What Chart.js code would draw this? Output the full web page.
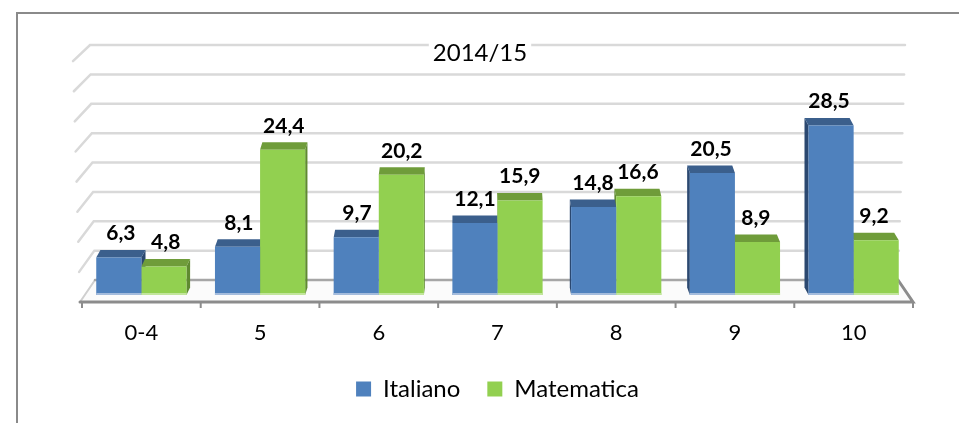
<!DOCTYPE html>
<html>
<head>
<meta charset="utf-8">
<script src="https://cdn.jsdelivr.net/npm/chart.js@4.4.1/dist/chart.umd.min.js"></script>
<style>
  html, body { margin: 0; padding: 0; background: #fff; }
  #wrap { position: relative; width: 959px; height: 423px; }
</style>
</head>
<body>
<div id="wrap"><canvas id="myChart" width="959" height="423"></canvas></div>
<script>
const categories = ['0-4', '5', '6', '7', '8', '9', '10'];
const italiano = [6.3, 8.1, 9.7, 12.1, 14.8, 20.5, 28.5];
const matematica = [4.8, 24.4, 20.2, 15.9, 16.6, 8.9, 9.2];
const yTicks = [0, 5, 10, 15, 20, 25, 30, 35, 40];
const chartTitle = '2014/15';

const FONT = 'Lato';
// front / top / side shades for each series
const shades = [
  { front: '#4f81bd', top: '#3b5f8c', side: '#2b4870', low: '#a3bbdc' },
  { front: '#92d050', top: '#6f9c3a', side: '#5f8a30', low: '#c2e59c' }
];
const vanishX = 480;

const fmt = v => v.toFixed(1).replace('.', ',');

const fake3d = {
  id: 'fake3d',
  beforeDraw(chart) {
    const ctx = chart.ctx;
    ctx.save();
    ctx.strokeStyle = '#8a8a8a';
    ctx.lineWidth = 2;
    ctx.beginPath();
    ctx.moveTo(17, 423);
    ctx.lineTo(17, 13);
    ctx.lineTo(959, 13);
    ctx.stroke();
    ctx.restore();
  },
  beforeDatasetsDraw(chart) {
    const ctx = chart.ctx;
    const ys = chart.scales.y, xs = chart.scales.x;
    const y0 = ys.getPixelForValue(0);
    const L = xs.left, R = xs.right;
    const frac = v => (y0 - ys.getPixelForValue(v)) / (y0 - ys.top);
    const backY = v => y0 - 15 + (ys.getPixelForValue(v) - y0) * 0.987;
    const stubY = v => y0 + 7 + (ys.getPixelForValue(v) - y0) * 1.012;
    ctx.save();
    ctx.lineCap = 'round';
    // back wall grid + left wall stubs
    ctx.strokeStyle = '#d9d9d9';
    ctx.lineWidth = 2.5;
    yTicks.forEach(v => {
      if (v === 0) return;
      const f = frac(v);
      const bx = L + 13 - 5 * f, fx = L - 2 - 7 * f;
      ctx.beginPath();
      ctx.moveTo(fx, stubY(v));
      ctx.lineTo(bx, backY(v));
      ctx.lineTo(R - 15 + 7 * f, backY(v));
      ctx.stroke();
    });
    // floor
    const fy = y0 + 7, by = backY(0);
    ctx.fillStyle = '#fbfbfb';
    ctx.beginPath();
    ctx.moveTo(L - 2, fy); ctx.lineTo(R, fy); ctx.lineTo(R - 15, by); ctx.lineTo(L + 13, by);
    ctx.closePath(); ctx.fill();
    ctx.strokeStyle = '#cfcfcf'; ctx.lineWidth = 2;
    ctx.beginPath(); ctx.moveTo(L - 2, fy); ctx.lineTo(L + 13, by); ctx.stroke();
    ctx.strokeStyle = '#a6a6a6'; ctx.lineWidth = 2.5;
    ctx.beginPath(); ctx.moveTo(L + 13, by); ctx.lineTo(R - 15, by); ctx.stroke();
    ctx.strokeStyle = '#8c8c8c'; ctx.lineWidth = 3;
    ctx.beginPath(); ctx.moveTo(R - 15, by); ctx.lineTo(R, fy); ctx.lineTo(L - 2, fy); ctx.stroke();
    ctx.lineWidth = 2; ctx.lineCap = 'butt';
    const cw = (R - L) / categories.length;
    for (let i = 0; i <= categories.length; i++) {
      const x = L + i * cw;
      ctx.beginPath(); ctx.moveTo(x, fy); ctx.lineTo(x, fy + 6); ctx.stroke();
    }
    // bar tops and sides
    categories.forEach((c, i) => {
      const order = chart.getDatasetMeta(0).data[i].x < vanishX ? [0, 1] : [1, 0];
      order.forEach(d => {
        const el = chart.getDatasetMeta(d).data[i];
        const x1 = el.x - el.width / 2, x2 = el.x + el.width / 2;
        const yt = el.y, yb = el.base;
        const dx = (vanishX - el.x) * 0.0115, dy = 7.5;
        ctx.fillStyle = shades[d].side;
        ctx.beginPath();
        const sx = dx > 0 ? x2 : x1;
        ctx.moveTo(sx, yt); ctx.lineTo(sx + dx, yt - dy); ctx.lineTo(sx + dx, yb - dy); ctx.lineTo(sx, yb);
        ctx.closePath(); ctx.fill();
        ctx.fillStyle = shades[d].top;
        ctx.beginPath();
        ctx.moveTo(x1, yt); ctx.lineTo(x2, yt); ctx.lineTo(x2 + dx, yt - dy); ctx.lineTo(x1 + dx, yt - dy);
        ctx.closePath(); ctx.fill();
      });
    });
    ctx.restore();
  },
  afterDatasetsDraw(chart) {
    const ctx = chart.ctx;
    ctx.save();
    ctx.textAlign = 'center';
    ctx.textBaseline = 'middle';
    [0, 1].forEach(d => {
      chart.getDatasetMeta(d).data.forEach((el, i) => {
        const x1 = el.x - el.width / 2;
        ctx.fillStyle = shades[d].low;
        ctx.fillRect(x1, el.base - 2, el.width, 2);
        const dx = (vanishX - el.x) * 0.0115;
        ctx.fillStyle = '#000';
        ctx.font = 'bold 21px ' + FONT;
        const val = chart.data.datasets[d].data[i];
        ctx.fillText(fmt(val), el.x + dx / 2, el.y - 24);
      });
    });
    // title over the back wall
    ctx.font = '24px ' + FONT;
    const w = ctx.measureText(chartTitle).width;
    ctx.fillStyle = '#fff';
    ctx.fillRect(vanishX - w / 2 - 4, 42, w + 8, 22);
    ctx.fillStyle = '#000';
    ctx.fillText(chartTitle, vanishX, 53);
    ctx.restore();
  }
};

const ctx = document.getElementById('myChart').getContext('2d');
const chart = new Chart(ctx, {
  type: 'bar',
  data: {
    labels: categories,
    datasets: [
      { label: 'Italiano', data: italiano, backgroundColor: shades[0].front, borderWidth: 0 },
      { label: 'Matematica', data: matematica, backgroundColor: shades[1].front, borderWidth: 0 }
    ]
  },
  options: {
    responsive: false,
    animation: false,
    layout: { padding: { left: 82, right: 46, top: 57, bottom: 12 } },
    datasets: { bar: { categoryPercentage: 0.76, barPercentage: 1.0 } },
    scales: {
      x: {
        grid: { display: false, drawTicks: false },
        border: { display: false },
        ticks: { color: '#000', padding: 25, font: { family: FONT, size: 22 } },
        afterFit: s => { s.height = 55; }
      },
      y: {
        display: false,
        min: 0,
        max: 40,
        afterBuildTicks: s => { s.ticks = yTicks.map(v => ({ value: v })); }
      }
    },
    plugins: {
      legend: {
        position: 'bottom',
        labels: {
          color: '#000',
          boxWidth: 15,
          boxHeight: 15,
          padding: 27,
          font: { family: FONT, size: 24 }
        }
      },
      tooltip: { enabled: false }
    }
  },
  plugins: [fake3d]
});
</script>
</body>
</html>
